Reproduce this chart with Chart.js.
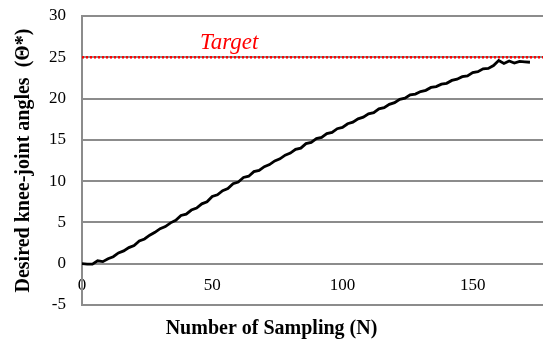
<!DOCTYPE html>
<html>
<head>
<meta charset="utf-8">
<script src="https://cdn.jsdelivr.net/npm/chart.js@4"></script>
<style>
  html, body { margin: 0; padding: 0; background: #fff; }
  #wrap { width: 543px; height: 344px; }
</style>
</head>
<body>
<div id="wrap"><canvas id="myChart"></canvas></div>
<script>
// sampling index (N)
const samples = [0, 2, 4, 6, 8, 10, 12, 14, 16, 18, 20, 22, 24, 26, 28, 30, 32, 34, 36, 38,
  40, 42, 44, 46, 48, 50, 52, 54, 56, 58, 60, 62, 64, 66, 68, 70, 72, 74, 76, 78,
  80, 82, 84, 86, 88, 90, 92, 94, 96, 98, 100, 102, 104, 106, 108, 110, 112, 114, 116, 118,
  120, 122, 124, 126, 128, 130, 132, 134, 136, 138, 140, 142, 144, 146, 148, 150, 152, 154, 156, 158,
  160, 162, 164, 166, 168, 170, 172];
// desired knee-joint angle
const angles = [0.0, -0.05, -0.05, 0.35, 0.25, 0.6, 0.85, 1.3, 1.55, 1.95, 2.2, 2.75, 3.0, 3.45, 3.8, 4.25, 4.5, 4.95, 5.25, 5.85,
  6.0, 6.5, 6.75, 7.25, 7.5, 8.15, 8.35, 8.85, 9.1, 9.7, 9.9, 10.45, 10.6, 11.15, 11.3, 11.75, 12.0, 12.45, 12.7, 13.15,
  13.4, 13.85, 14.0, 14.55, 14.7, 15.15, 15.3, 15.75, 15.9, 16.35, 16.5, 16.95, 17.15, 17.55, 17.75, 18.15, 18.3, 18.75, 18.9, 19.3,
  19.5, 19.9, 20.05, 20.45, 20.55, 20.85, 21.0, 21.35, 21.45, 21.75, 21.85, 22.2, 22.35, 22.65, 22.75, 23.15, 23.25, 23.6, 23.65, 24.0,
  24.6, 24.25, 24.55, 24.3, 24.5, 24.45, 24.4];
const target = 25;
const xRange = [0, 177];
const yTicks = [-5, 30, 5];
const xStep = 50;

const serif = "'Liberation Serif', 'Times New Roman', serif";

// the "Target" label, placed from the scales
const targetLabel = {
  id: 'targetLabel',
  afterDatasetsDraw(chart) {
    const c = chart.ctx;
    const x = chart.scales.x.getPixelForValue(56.5);
    const y = chart.scales.y.getPixelForValue(target);
    c.save();
    c.fillStyle = '#ff0000';
    c.font = 'italic 23px ' + serif;
    c.textAlign = 'center';
    c.textBaseline = 'alphabetic';
    c.fillText('Target', x, y - 8);
    c.restore();
  }
};

const ctx = document.getElementById('myChart');
const myChart = new Chart(ctx, {
  type: 'line',
  data: {
    datasets: [{
      data: samples.map((n, i) => ({x: n, y: angles[i]})),
      borderColor: '#000',
      borderWidth: 2.8,
      pointRadius: 0,
      tension: 0
    }, {
      data: [{x: xRange[0], y: target}, {x: xRange[1], y: target}],
      borderColor: '#ff0000',
      borderWidth: 2.5,
      borderDash: [2, 2],
      pointRadius: 0
    }]
  },
  options: {
    responsive: true,
    maintainAspectRatio: false,
    animation: false,
    layout: { padding: { top: 16, right: 0, left: 0, bottom: 0 } },
    plugins: {
      legend: { display: false },
      tooltip: { enabled: false },
      title: {
        display: true,
        position: 'bottom',
        text: 'Number of Sampling (N)',
        color: '#000',
        font: { family: serif, size: 20, weight: 'bold' },
        padding: { top: 12, bottom: 3 }
      }
    },
    scales: {
      x: {
        type: 'linear',
        position: { y: 0 },
        min: xRange[0],
        max: xRange[1],
        grid: { display: false, drawTicks: false },
        border: { display: true, color: '#8c8c8c', width: 2 },
        ticks: {
          stepSize: xStep,
          includeBounds: false,
          padding: 12,
          color: '#000',
          font: { family: serif, size: 17 },
          maxRotation: 0
        }
      },
      y: {
        min: yTicks[0],
        max: yTicks[1],
        afterFit: (s) => { s.width = 82; s.paddingTop = 0; s.paddingBottom = 0; },
        grid: { color: '#8c8c8c', lineWidth: 2, drawTicks: false },
        border: { display: true, color: '#8c8c8c', width: 2 },
        ticks: {
          stepSize: yTicks[2],
          padding: 16,
          color: '#000',
          font: { family: serif, size: 17 }
        },
        title: {
          display: true,
          text: 'Desired knee-joint angles  (\u0398*)',
          color: '#000',
          font: { family: serif, size: 20, weight: 'bold' },
          padding: { top: 12, bottom: 0 }
        }
      }
    }
  },
  plugins: [targetLabel]
});
</script>
</body>
</html>
